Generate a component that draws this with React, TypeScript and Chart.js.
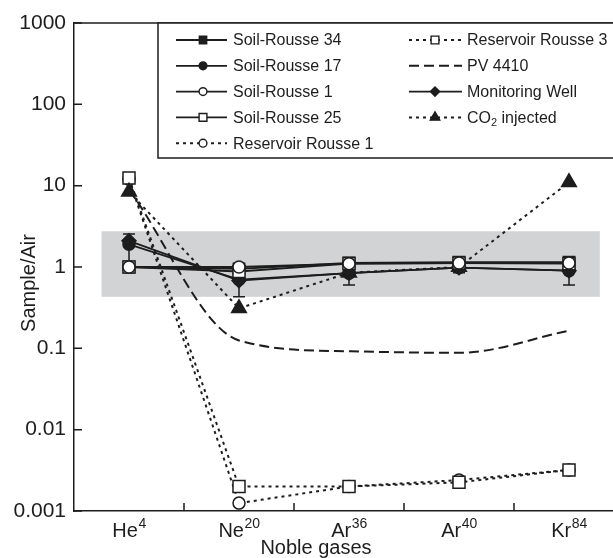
import React, { useEffect, useRef } from 'react';
import { Chart, registerables } from 'chart.js';

Chart.register(...registerables);

// ---------- data ----------
const GAS_SYMBOLS = ['He', 'Ne', 'Ar', 'Ar', 'Kr'];
const GAS_MASSES = ['4', '20', '36', '40', '84'];
const Y_TICKS = [0.001, 0.01, 0.1, 1, 10, 100, 1000];
const Y_TICK_LABELS = ['0.001', '0.01', '0.1', '1', '10', '100', '1000'];

const SOIL_ROUSSE_34 = [1.0, 0.95, 1.12, 1.15, 1.15];
const SOIL_ROUSSE_17 = [1.9, 0.7, 0.84, 0.98, 0.9];
const SOIL_ROUSSE_17_LOW = [1.1, 0.43, 0.6, 0.85, 0.6];
const SOIL_ROUSSE_17_HIGH = [2.55, 1.05, 1.2, 1.2, 1.2];
const SOIL_ROUSSE_1 = [1.0, 1.0, 1.1, 1.12, 1.12];
const SOIL_ROUSSE_25 = [1.0, 0.88, 1.1, 1.12, 1.1];
const RESERVOIR_ROUSSE_1 = [12.0, 0.00125, 0.002, 0.0024, 0.0032];
const RESERVOIR_ROUSSE_3 = [12.4, 0.002, 0.002, 0.00225, 0.0032];
const PV_4410 = [9.0, 0.125, 0.092, 0.088, 0.165];
const MONITORING_WELL = [2.1, 0.68, 0.84, 0.98, 0.9];
const CO2_INJECTED = [8.4, 0.31, 0.85, 1.0, 11.0];

const AIR_BAND = [0.43, 2.75];
const AIR_BAND_X = [-0.25, 4.28];

// ---------- styles ----------
const INK = '#1d1d1d';
const FONT = '"Liberation Sans", Arial, Helvetica, sans-serif';
const BAND_COLOR = '#d2d3d5';
const SOLID: number[] = [];
const DOTTED = [3, 4];
const DASHED = [10, 5];

type Marker = 'rect' | 'circle' | 'rectRot' | 'triangle' | null;
type Series = {
  label: string;
  sub?: string;
  after?: string;
  data: number[];
  dash: number[];
  marker: Marker;
  filled: boolean;
  radius: number;
  order: number;
  smooth?: boolean;
};

const SERIES: Series[] = [
  { label: 'Soil-Rousse 34', data: SOIL_ROUSSE_34, dash: SOLID, marker: 'rect', filled: true, radius: 8, order: 2 },
  { label: 'Soil-Rousse 17', data: SOIL_ROUSSE_17, dash: SOLID, marker: 'circle', filled: true, radius: 6, order: 3 },
  { label: 'Soil-Rousse 1', data: SOIL_ROUSSE_1, dash: SOLID, marker: 'circle', filled: false, radius: 6, order: 0 },
  { label: 'Soil-Rousse 25', data: SOIL_ROUSSE_25, dash: SOLID, marker: 'rect', filled: false, radius: 8.5, order: 1 },
  { label: 'Reservoir Rousse 1', data: RESERVOIR_ROUSSE_1, dash: DOTTED, marker: 'circle', filled: false, radius: 6, order: 7 },
  { label: 'Reservoir Rousse 3', data: RESERVOIR_ROUSSE_3, dash: DOTTED, marker: 'rect', filled: false, radius: 8.5, order: 6 },
  { label: 'PV 4410', data: PV_4410, dash: DASHED, marker: null, filled: false, radius: 0, order: 8, smooth: true },
  { label: 'Monitoring Well', data: MONITORING_WELL, dash: SOLID, marker: 'rectRot', filled: true, radius: 7, order: 4 },
  { label: 'CO', sub: '2', after: ' injected', data: CO2_INJECTED, dash: DOTTED, marker: 'triangle', filled: true, radius: 8.5, order: 5 },
];

function drawMarker(ctx: CanvasRenderingContext2D, m: Marker, x: number, y: number, r: number, filled: boolean) {
  if (!m) return;
  ctx.save();
  ctx.setLineDash([]);
  ctx.beginPath();
  if (m === 'circle') ctx.arc(x, y, r, 0, Math.PI * 2);
  else if (m === 'rect') {
    const s = r * Math.SQRT1_2;
    ctx.rect(x - s, y - s, 2 * s, 2 * s);
  } else if (m === 'rectRot') {
    ctx.moveTo(x - r, y);
    ctx.lineTo(x, y - r);
    ctx.lineTo(x + r, y);
    ctx.lineTo(x, y + r);
    ctx.closePath();
  } else if (m === 'triangle') {
    ctx.moveTo(x, y - r);
    ctx.lineTo(x + r * Math.sin((2 * Math.PI) / 3), y - r * Math.cos((2 * Math.PI) / 3));
    ctx.lineTo(x - r * Math.sin((2 * Math.PI) / 3), y - r * Math.cos((2 * Math.PI) / 3));
    ctx.closePath();
  }
  ctx.fillStyle = filled ? INK : '#ffffff';
  ctx.fill();
  ctx.lineWidth = 1.4;
  ctx.strokeStyle = INK;
  ctx.stroke();
  ctx.restore();
}

const decorPlugin = {
  id: 'decor',
  beforeDatasetsDraw(chart: any) {
    const { ctx, scales } = chart;
    const xs = scales.x;
    const ys = scales.y;
    ctx.save();
    // air band
    const bx0 = xs.getPixelForValue(AIR_BAND_X[0]);
    const bx1 = xs.getPixelForValue(AIR_BAND_X[1]);
    const by0 = ys.getPixelForValue(AIR_BAND[1]);
    const by1 = ys.getPixelForValue(AIR_BAND[0]);
    ctx.fillStyle = BAND_COLOR;
    ctx.fillRect(bx0, by0, bx1 - bx0, by1 - by0);
    // error bars (Soil-Rousse 17)
    ctx.strokeStyle = INK;
    ctx.lineWidth = 1.5;
    ctx.setLineDash([]);
    SOIL_ROUSSE_17_LOW.forEach((lo, i) => {
      const px = xs.getPixelForValue(i);
      const yl = ys.getPixelForValue(lo);
      const yh = ys.getPixelForValue(SOIL_ROUSSE_17_HIGH[i]);
      ctx.beginPath();
      ctx.moveTo(px, yl);
      ctx.lineTo(px, yh);
      ctx.moveTo(px - 6, yl);
      ctx.lineTo(px + 6, yl);
      ctx.moveTo(px - 6, yh);
      ctx.lineTo(px + 6, yh);
      ctx.stroke();
    });
    ctx.restore();
  },
  afterDraw(chart: any) {
    const { ctx, scales, chartArea } = chart;
    const xs = scales.x;
    const ys = scales.y;
    ctx.save();
    ctx.strokeStyle = INK;
    ctx.lineWidth = 1.5;
    ctx.setLineDash([]);
    // top frame line
    ctx.beginPath();
    ctx.moveTo(chartArea.left, chartArea.top);
    ctx.lineTo(chart.width, chartArea.top);
    ctx.stroke();
    // inward y ticks
    ctx.beginPath();
    Y_TICKS.forEach((v) => {
      const py = ys.getPixelForValue(v);
      ctx.moveTo(chartArea.left, py);
      ctx.lineTo(chartArea.left + 8, py);
    });
    // inward x ticks between categories
    for (let i = 0; i < GAS_SYMBOLS.length - 1; i++) {
      const px = xs.getPixelForValue(i + 0.5);
      ctx.moveTo(px, chartArea.bottom);
      ctx.lineTo(px, chartArea.bottom - 8);
    }
    ctx.stroke();

    // x category labels with superscripts
    ctx.fillStyle = INK;
    ctx.textBaseline = 'alphabetic';
    ctx.textAlign = 'left';
    GAS_SYMBOLS.forEach((sym, i) => {
      ctx.font = `20px ${FONT}`;
      const wBase = ctx.measureText(sym).width;
      ctx.font = `14px ${FONT}`;
      const wSup = ctx.measureText(GAS_MASSES[i]).width;
      const cx = xs.getPixelForValue(i);
      const x0 = cx - (wBase + wSup) / 2;
      ctx.font = `20px ${FONT}`;
      ctx.fillText(sym, x0, 537);
      ctx.font = `14px ${FONT}`;
      ctx.fillText(GAS_MASSES[i], x0 + wBase + 0.5, 528);
    });

    // axis titles
    ctx.font = `20px ${FONT}`;
    ctx.textAlign = 'center';
    ctx.fillText('Noble gases', 316, 554);
    ctx.save();
    ctx.translate(35, 283);
    ctx.rotate(-Math.PI / 2);
    ctx.fillText('Sample/Air', 0, 0);
    ctx.restore();

    // legend box
    ctx.fillStyle = '#ffffff';
    ctx.fillRect(158, 23, chart.width - 158 + 10, 135);
    ctx.strokeStyle = INK;
    ctx.lineWidth = 1.5;
    ctx.strokeRect(158, 23, chart.width - 158 + 10, 135);

    const cols = [
      { x0: 176, x1: 227, mx: 203, tx: 233 },
      { x0: 409, x1: 462, mx: 435, tx: 467 },
    ];
    SERIES.forEach((s, idx) => {
      const col = idx < 5 ? cols[0] : cols[1];
      const row = idx < 5 ? idx : idx - 5;
      const ry = 40 + row * 25.8;
      ctx.save();
      ctx.strokeStyle = INK;
      ctx.lineWidth = s.dash === SOLID ? 1.8 : 2;
      ctx.setLineDash(s.dash);
      ctx.beginPath();
      ctx.moveTo(col.x0, ry);
      ctx.lineTo(col.x1, ry);
      ctx.stroke();
      ctx.restore();
      drawMarker(ctx, s.marker, col.mx, ry, s.radius * 0.65, s.filled);
      ctx.fillStyle = INK;
      ctx.textAlign = 'left';
      ctx.textBaseline = 'middle';
      ctx.font = `16px ${FONT}`;
      ctx.fillText(s.label, col.tx, ry + 1);
      if (s.sub) {
        const w = ctx.measureText(s.label).width;
        ctx.font = `11px ${FONT}`;
        ctx.fillText(s.sub, col.tx + w, ry + 6);
        const ws = ctx.measureText(s.sub).width;
        ctx.font = `16px ${FONT}`;
        ctx.fillText(s.after || '', col.tx + w + ws, ry + 1);
      }
    });
    ctx.restore();
  },
};

export default function App() {
  const canvasRef = useRef<HTMLCanvasElement | null>(null);

  useEffect(() => {
    if (!canvasRef.current) return;
    const datasets = SERIES.map((s) => ({
      label: s.label,
      data: s.data.map((v, i) => ({ x: i, y: v })),
      borderColor: INK,
      backgroundColor: s.filled ? INK : '#ffffff',
      borderWidth: s.dash === SOLID ? 1.8 : 2,
      borderDash: s.dash,
      pointStyle: s.marker || 'circle',
      pointRadius: s.radius,
      pointBorderWidth: 1.5,
      pointBorderColor: INK,
      pointBackgroundColor: s.filled ? INK : '#ffffff',
      cubicInterpolationMode: s.smooth ? 'monotone' : 'default',
      tension: 0,
      fill: false,
      order: s.order,
      clip: false,
    }));

    const chart = new Chart(canvasRef.current, {
      type: 'line',
      data: { datasets } as any,
      plugins: [decorPlugin],
      options: {
        responsive: false,
        animation: false,
        events: [],
        layout: { autoPadding: false, padding: { top: 23, right: 0, bottom: 0, left: 0 } },
        plugins: {
          legend: { display: false },
          tooltip: { enabled: false },
          title: { display: false },
        },
        scales: {
          x: {
            type: 'linear',
            min: -0.5,
            max: 4.4,
            grid: { display: false, drawTicks: false },
            border: { display: true, color: INK, width: 1.5 },
            ticks: { display: false },
            afterFit: (s: any) => {
              s.height = 47;
            },
          },
          y: {
            type: 'logarithmic',
            min: 0.001,
            max: 1000,
            grid: { display: false, drawTicks: false },
            border: { display: true, color: INK, width: 1.5 },
            afterBuildTicks: (s: any) => {
              s.ticks = Y_TICKS.map((v) => ({ value: v }));
            },
            ticks: {
              autoSkip: false,
              padding: 8,
              color: INK,
              font: { size: 21, family: FONT },
              callback: (v: any) => {
                const k = Y_TICKS.findIndex((t) => Math.abs(t - Number(v)) < t * 1e-6);
                return k >= 0 ? Y_TICK_LABELS[k] : '';
              },
            },
            afterFit: (s: any) => {
              s.width = 74;
            },
          },
        },
      } as any,
    });
    return () => chart.destroy();
  }, []);

  return (
    <div style={{ position: 'absolute', left: 0, top: 0, width: 613, height: 558, background: '#fff' }}>
      <canvas ref={canvasRef} width={613} height={558} style={{ display: 'block' }} />
    </div>
  );
}
